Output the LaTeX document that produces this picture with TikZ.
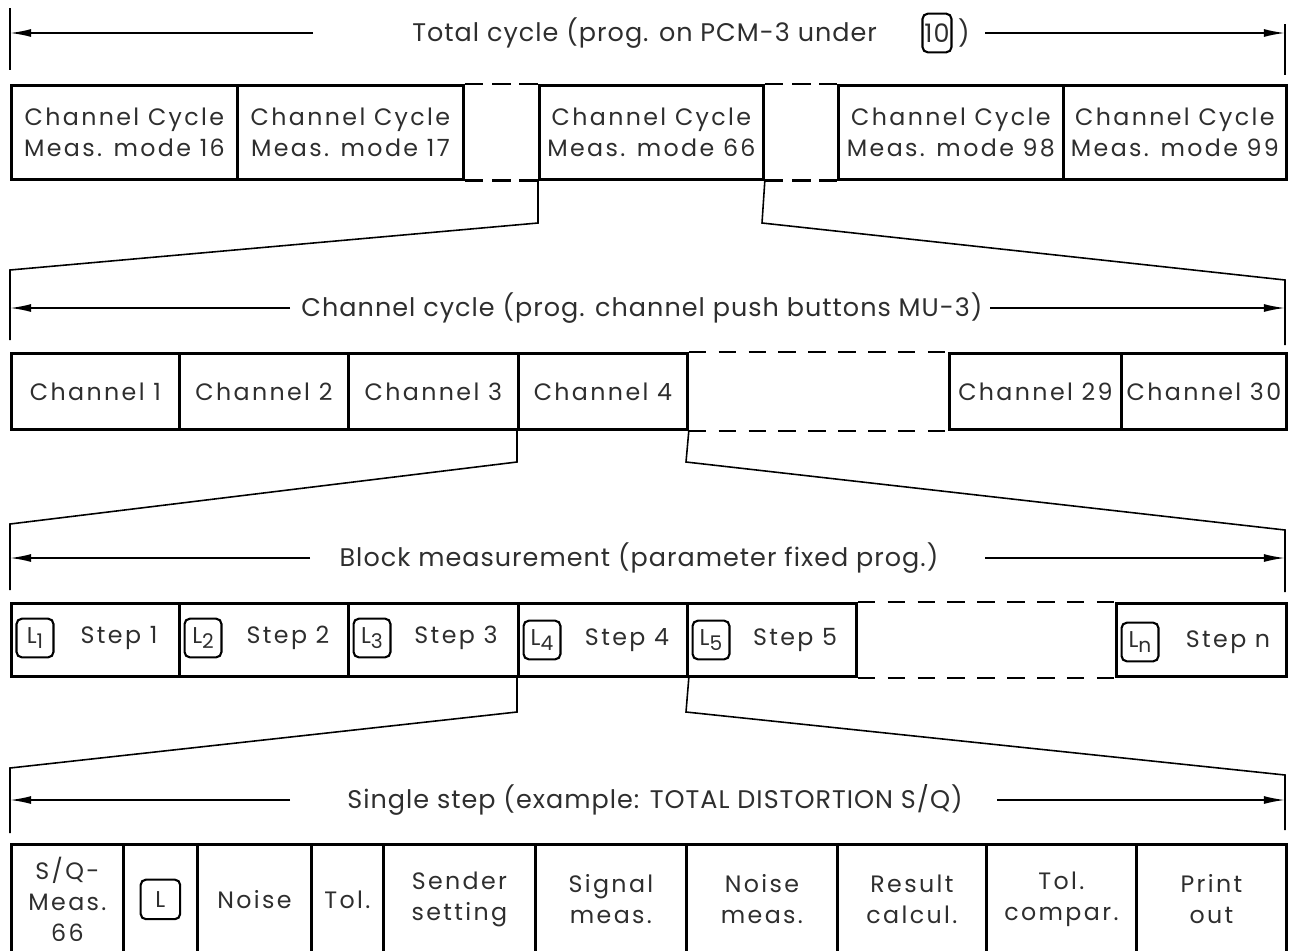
\documentclass[tikz,border=0pt]{standalone}
\usepackage{fontspec}
\setmainfont{Poppins}
\newfontfamily\boxfam{Poppins}[LetterSpace=10]
\newfontfamily\titlefam{Poppins}[LetterSpace=4]
\usetikzlibrary{arrows.meta,positioning}
\newcommand\boxfont{\boxfam\fontsize{13.5}{17.5}\selectfont}
\newcommand\titlefont{\titlefam\fontsize{14.5}{18}\selectfont}
\newcommand\lfont{\fontsize{13}{14}\selectfont}
\newcommand\sub[1]{\raisebox{-3pt}{\fontsize{11.5}{12}\selectfont #1}}
\tikzset{
  box/.style={draw, line width=1.6pt, inner sep=0pt, align=center, font=\boxfont, text=black!82},
  cell/.style 2 args={box, minimum width=#1*0.02cm, minimum height=#2*0.02cm, anchor=north west},
  lbox/.style={draw, line width=1.2pt, rounded corners=3pt, inner sep=0pt, minimum width=21pt, minimum height=22pt, font=\lfont, text=black!82},
  title/.style={inner sep=0pt, font=\titlefont, text=black!82},
  steptext/.style={inner sep=0pt, font=\boxfont, text=black!82},
  arr/.style={line width=0.9pt, -{Latex[length=12pt,width=4.5pt]}},
  tick/.style={line width=0.9pt},
  conn/.style={line width=0.9pt},
  dsh/.style={line width=1.6pt, dash pattern=on 10.5pt off 5pt},
  dshl/.style={line width=1pt, dash pattern=on 10pt off 7pt},
}
\begin{document}
\begin{tikzpicture}[x=0.02cm,y=-0.02cm]
\useasboundingbox (0,0) rectangle (1290,950);

% ---------- Row 1 : total cycle ----------
\coordinate (r1L) at (10,33);
\coordinate (r1R) at (1285,33);
\coordinate (r1Ltop) at (10,8);
\coordinate (r1Lbot) at (10,70);
\coordinate (r1Rtop) at (1285,24);
\coordinate (r1Rbot) at (1285,75);
\coordinate (r1a) at (313,33);
\coordinate (r1b) at (985,33);
\node[title, anchor=west] (t1) at (412,33) {Total cycle (prog. on PCM-3 under};
\node[lbox, minimum width=16.5pt, minimum height=22pt, font=\titlefont] (t1box) at (937,33) {10};
\node[title] (t1c) at (964,33) {)};
\draw[tick] (r1Ltop) -- (r1Lbot);
\draw[tick] (r1Rtop) -- (r1Rbot);
\draw[arr] (r1a) -- (r1L);
\draw[arr] (r1b) -- (r1R);

\node[cell={226}{94}] (b16) at (10,84) {Channel Cycle\\Meas. mode 16};
\node[cell={226}{94}] (b17) at (236,84) {Channel Cycle\\Meas. mode 17};
\node[cell={224}{94}] (b66) at (538,84) {Channel Cycle\\Meas. mode 66};
\node[cell={225}{94}] (b98) at (837,84) {Channel Cycle\\Meas. mode 98};
\node[cell={223}{94}] (b99) at (1062,84) {Channel Cycle\\Meas. mode 99};
\draw[dsh] (b17.north east) -- (b66.north west);
\draw[dsh] (b17.south east) -- (b66.south west);
\draw[dsh] (b66.north east) -- (b98.north west);
\draw[dsh] (b66.south east) -- (b98.south west);

% connectors row 1 -> row 2
\coordinate (k1a) at (538,223);
\coordinate (k1b) at (762,223);
\coordinate (r2Ltop) at (10,270);
\coordinate (r2Rtop) at (1285,280);
\coordinate (r2Lbot) at (10,340);
\coordinate (r2Rbot) at (1285,345);
\draw[conn] (b66.south west) -- (k1a) -- (r2Ltop) -- (r2Lbot);
\draw[conn] (b66.south east) -- (k1b) -- (r2Rtop) -- (r2Rbot);

% ---------- Row 2 : channel cycle ----------
\coordinate (r2L) at (10,308);
\coordinate (r2R) at (1285,308);
\coordinate (r2a) at (290,308);
\coordinate (r2b) at (990,308);
\node[title] (t2) at (642,308) {Channel cycle (prog. channel push buttons MU-3)};
\draw[arr] (r2a) -- (r2L);
\draw[arr] (r2b) -- (r2R);

\node[cell={168}{76}] (c1) at (10,352) {Channel 1};
\node[cell={169}{76}] (c2) at (178,352) {Channel 2};
\node[cell={170}{76}] (c3) at (347,352) {Channel 3};
\node[cell={169}{76}] (c4) at (517,352) {Channel 4};
\node[cell={172}{76}] (c29) at (948,352) {Channel 29};
\node[cell={165}{76}] (c30) at (1120,352) {Channel 30};
\draw[dshl] (c4.north east) -- (c29.north west);
\draw[dshl] (c4.south east) -- (c29.south west);

% connectors row 2 -> row 3
\coordinate (k2a) at (517,462);
\coordinate (k2b) at (686,462);
\coordinate (r3Ltop) at (10,524);
\coordinate (r3Rtop) at (1285,530);
\coordinate (r3Lbot) at (10,590);
\coordinate (r3Rbot) at (1285,592);
\draw[conn] (c4.south west) -- (k2a) -- (r3Ltop) -- (r3Lbot);
\draw[conn] (c4.south east) -- (k2b) -- (r3Rtop) -- (r3Rbot);

% ---------- Row 3 : block measurement ----------
\coordinate (r3L) at (10,558);
\coordinate (r3R) at (1285,558);
\coordinate (r3a) at (310,558);
\coordinate (r3b) at (985,558);
\node[title] (t3) at (639,558) {Block measurement (parameter fixed prog.)};
\draw[arr] (r3a) -- (r3L);
\draw[arr] (r3b) -- (r3R);

\node[cell={168}{73}] (s1) at (10,602) {};
\node[cell={169}{73}] (s2) at (178,602) {};
\node[cell={170}{73}] (s3) at (347,602) {};
\node[cell={169}{73}] (s4) at (517,602) {};
\node[cell={169}{73}] (s5) at (686,602) {};
\node[cell={170}{73}] (sn) at (1115,602) {};
\draw[dshl] (s5.north east) -- (sn.north west);
\draw[dshl] (s5.south east) -- (sn.south west);

\node[lbox] (l1) at (35,638) {L\sub{1}};
\node[steptext] (st1) at (119,638) {Step 1};
\node[lbox] (l2) at (203,638) {L\sub{2}};
\node[steptext] (st2) at (288,638) {Step 2};
\node[lbox] (l3) at (372,638) {L\sub{3}};
\node[steptext] (st3) at (456,638) {Step 3};
\node[lbox] (l4) at (542,640) {L\sub{4}};
\node[steptext] (st4) at (627,640) {Step 4};
\node[lbox] (l5) at (711,640) {L\sub{5}};
\node[steptext] (st5) at (795,640) {Step 5};
\node[lbox] (ln) at (1140,642) {L\sub{n}};
\node[steptext] (stn) at (1228,642) {Step n};

% connectors row 3 -> row 4
\coordinate (k3a) at (517,712);
\coordinate (k3b) at (686,712);
\coordinate (r4Ltop) at (10,768);
\coordinate (r4Rtop) at (1285,775);
\coordinate (r4Lbot) at (10,833);
\coordinate (r4Rbot) at (1285,830);
\draw[conn] (s4.south west) -- (k3a) -- (r4Ltop) -- (r4Lbot);
\draw[conn] (s4.south east) -- (k3b) -- (r4Rtop) -- (r4Rbot);

% ---------- Row 4 : single step ----------
\coordinate (r4L) at (10,800);
\coordinate (r4R) at (1285,800);
\coordinate (r4a) at (290,800);
\coordinate (r4b) at (997,800);
\node[title] (t4) at (655,800) {Single step (example: TOTAL DISTORTION S/Q)};
\draw[arr] (r4a) -- (r4L);
\draw[arr] (r4b) -- (r4R);

\node[cell={112}{110}] (d1) at (10,843) {S/Q-\\Meas.\\66};
\node[cell={74}{110}] (d2) at (122,843) {};
\node[lbox, minimum width=22.5pt, minimum height=22.5pt] (d2l) at (d2.center) {L};
\node[cell={114}{110}] (d3) at (196,843) {Noise};
\node[cell={72}{110}] (d4) at (310,843) {Tol.};
\node[cell={152}{110}] (d5) at (382,843) {Sender\\setting};
\node[cell={151}{110}] (d6) at (534,843) {Signal\\meas.};
\node[cell={151}{110}] (d7) at (685,843) {Noise\\meas.};
\node[cell={149}{110}] (d8) at (836,843) {Result\\calcul.};
\node[cell={150}{110}] (d9) at (985,843) {Tol.\\compar.};
\node[cell={150}{110}] (d10) at (1135,843) {Print\\out};
\end{tikzpicture}
\end{document}
